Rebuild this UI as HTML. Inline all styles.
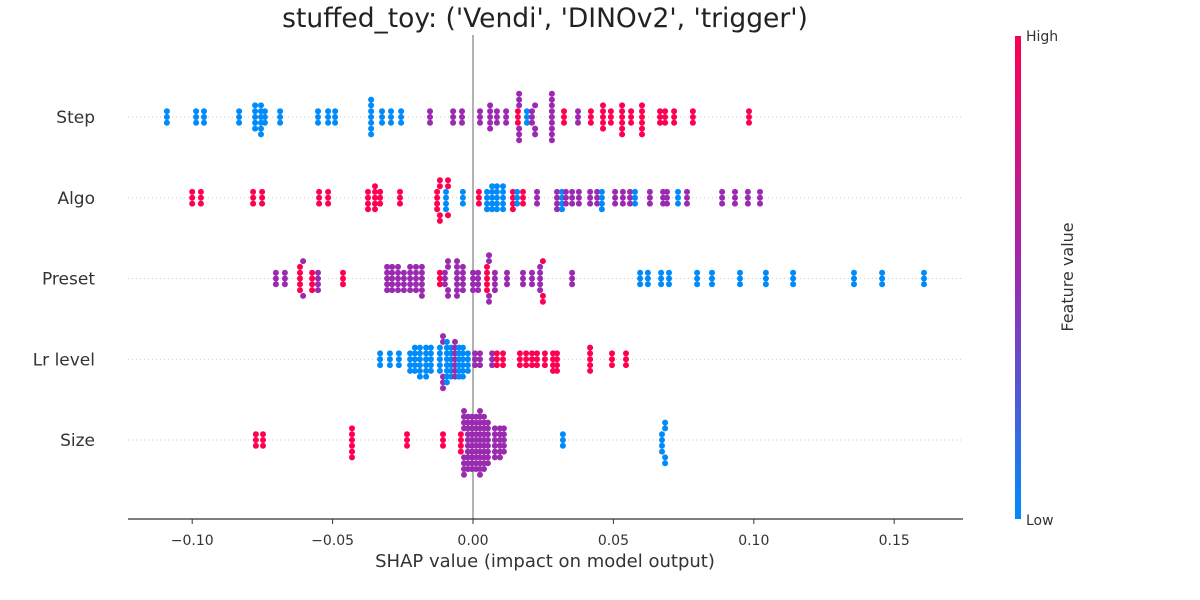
<!DOCTYPE html>
<html><head><meta charset="utf-8"><style>
html,body{margin:0;padding:0;background:#fff;}
svg{display:block;font-family:"DejaVu Sans","Liberation Sans",sans-serif;}
</style></head><body>
<svg id="chart" width="1200" height="600" viewBox="0 0 1200 600" xmlns="http://www.w3.org/2000/svg">
<text x="545" y="27" font-size="26.5" text-anchor="middle" fill="#222">stuffed_toy: ('Vendi', 'DINOv2', 'trigger')</text>
<g id="grid"></g>
<line x1="473" y1="35" x2="473" y2="519" stroke="#999" stroke-width="1.5"/>
<g id="points"></g>
<line x1="128" y1="519" x2="963" y2="519" stroke="#333" stroke-width="1.2"/>
<g id="xticks"></g>
<text x="545" y="567" font-size="18" text-anchor="middle" fill="#333">SHAP value (impact on model output)</text>
<defs><linearGradient id="cb" x1="0" y1="1" x2="0" y2="0">
<stop offset="0" stop-color="#008bfb"/><stop offset="0.5" stop-color="#9a2ab0"/><stop offset="1" stop-color="#ff0051"/></linearGradient></defs>
<rect x="1015" y="36" width="6" height="483" fill="url(#cb)"/>
<text x="1026" y="41" font-size="14" fill="#333">High</text>
<text x="1026" y="525" font-size="14" fill="#333">Low</text>
<text transform="translate(1073,277) rotate(-90)" font-size="16" text-anchor="middle" fill="#333">Feature value</text>
</svg>
<script>
const features = ["Step","Algo","Preset","Lr level","Size"];
const xTicks = [-0.10,-0.05,0.00,0.05,0.10,0.15];
const xTickLabels = ["\u22120.10","\u22120.05","0.00","0.05","0.10","0.15"];

const stepVals = [-0.109,-0.0986,-0.0958,-0.0833,-0.0776,-0.0755,-0.0741,-0.0687,-0.0552,-0.0516,-0.0491,-0.0363,-0.0324,-0.0292,-0.0256,-0.0153,-0.0071,-0.0039,0.0025,0.0061,0.0085,0.0118,0.0164,0.016,0.0192,0.021,0.0221,0.0281,0.0324,0.0374,0.042,0.0463,0.0491,0.0531,0.0563,0.0602,0.0666,0.0684,0.0716,0.0783,0.0983];
const stepCounts = [3,3,3,3,5,6,3,3,3,3,3,7,3,3,3,3,3,3,3,5,3,3,6,3,3,3,3,9,3,3,3,5,3,6,3,6,3,3,3,3,3];
const stepFeat = [0,0,0,0,0,0,0,0,0,0,0,0,0,0,0,0.5,0.5,0.5,0.5,0.5,0.5,0.5,0.5,1,0,0.5,0.5,0.5,1,0.5,1,1,1,1,1,1,1,1,1,1,1];

const algoVals = [-0.1,-0.0969,-0.0783,-0.0751,-0.0548,-0.0516,-0.0374,-0.0349,-0.0331,-0.026,-0.0128,-0.0118,-0.0096,-0.0089,-0.0036,0.0021,0.005,0.0068,0.0085,0.0107,0.0142,0.0157,0.0178,0.0228,0.0299,0.0317,0.0331,0.0353,0.0377,0.0417,0.0442,0.0459,0.0506,0.0534,0.0559,0.0577,0.063,0.0677,0.0691,0.073,0.0762,0.0887,0.0933,0.0979,0.1022];
const algoCounts = [3,3,3,3,3,3,4,5,3,3,4,4,4,3,3,3,4,5,5,5,4,3,3,3,4,4,3,3,3,3,3,4,3,3,3,3,3,3,3,3,3,3,3,3,3];
const algoFeat = [1,1,1,1,1,1,1,1,1,1,1,1,0,1,0,1,0,0,0,0,1,0,1,0.5,0.5,0,0.5,0.5,0.5,0.5,0.5,0,0.5,0.5,0.5,0,0.5,0.5,0.5,0,0.5,0.5,0.5,0.5,0.5];

const presetVals = [-0.0702,-0.067,-0.0616,-0.0605,-0.0573,-0.0552,-0.0463,-0.0306,-0.0288,-0.0267,-0.0246,-0.0224,-0.0203,-0.0182,-0.0118,-0.01,-0.0089,-0.0057,-0.0036,0,0.0018,0.005,0.0057,0.0078,0.0121,0.0178,0.021,0.0239,0.0249,0.0353,0.0595,0.0623,0.067,0.0698,0.0798,0.0851,0.0951,0.1043,0.114,0.1357,0.1457,0.1606];
const presetCounts = [3,3,5,2,4,4,3,5,5,5,4,5,5,6,3,3,4,7,5,4,4,5,4,4,3,3,3,5,3,3,3,3,3,3,3,3,3,3,3,3,3,3];
const presetFeat = [0.5,0.5,1,0.5,1,0.5,1,0.5,0.5,0.5,0.5,0.5,0.5,0.5,1,0.5,0.5,0.5,0.5,0.5,0.5,1,0.5,0.5,0.5,0.5,0.5,0.5,1,0.5,0,0,0,0,0,0,0,0,0,0,0,0];

const lrVals = [-0.0331,-0.0296,-0.0264,-0.0224,-0.0207,-0.0189,-0.0167,-0.015,-0.0118,-0.0107,-0.0093,-0.0078,-0.0064,-0.005,-0.0036,-0.0018,0.0007,0.0025,0.0068,0.0085,0.0107,0.0167,0.0189,0.021,0.0228,0.0256,0.0285,0.0299,0.0417,0.0495,0.0545];
const lrCounts = [3,3,3,4,5,6,6,5,5,5,8,6,7,6,6,4,3,3,3,3,3,3,3,3,3,3,4,4,5,3,3];
const lrFeat = [0,0,0,0,0,0,0,0,0,0.5,0,0,0.5,0,0,0,0.5,0.5,0.5,1,1,1,1,1,1,1,1,1,1,1,1];

const sizeVals = [-0.0773,-0.0748,-0.0431,-0.0235,-0.0107,-0.0043,-0.0032,-0.0018,-0.0004,0.0011,0.0025,0.0039,0.0053,0.0078,0.0096,0.011,0.032,0.0673,0.0684];
const sizeCounts = [3,3,6,3,3,4,8,10,10,10,12,10,8,6,6,5,3,4,4];
const sizeFeat = [1,1,1,1,1,1,0.5,0.5,0.5,0.5,0.5,0.5,0.5,0.5,0.5,0.5,0,0,0];

const rows = [[stepVals,stepCounts,stepFeat],[algoVals,algoCounts,algoFeat],[presetVals,presetCounts,presetFeat],[lrVals,lrCounts,lrFeat],[sizeVals,sizeCounts,sizeFeat]];

const NS="http://www.w3.org/2000/svg";
const x0=473, pxPerUnit=2808;
function xScale(v){return x0+v*pxPerUnit;}
function yRow(i){return 117+i*80.75;}
function color(f){
  if(f<=0) return "#008bfb"; if(f>=1) return "#ff0051"; return "#9a2ab0";
}
const grid=document.getElementById('grid');
features.forEach((f,i)=>{
  const y=yRow(i);
  const l=document.createElementNS(NS,'line');
  l.setAttribute('x1',128);l.setAttribute('x2',963);l.setAttribute('y1',y);l.setAttribute('y2',y);
  l.setAttribute('stroke','#ccc');l.setAttribute('stroke-dasharray','1,3');
  
  
  grid.appendChild(l);
  const t=document.createElementNS(NS,'text');
  t.setAttribute('x',95);t.setAttribute('y',y+6);t.setAttribute('text-anchor','end');
  t.setAttribute('font-size','17');t.setAttribute('fill','#333');t.textContent=f;
  
  
  grid.appendChild(t);
});
const xt=document.getElementById('xticks');
xTicks.forEach((v,i)=>{
  const x=xScale(v);
  const l=document.createElementNS(NS,'line');
  l.setAttribute('x1',x);l.setAttribute('x2',x);l.setAttribute('y1',519);l.setAttribute('y2',524);
  l.setAttribute('stroke','#333');
  
  
  xt.appendChild(l);
  const t=document.createElementNS(NS,'text');
  t.setAttribute('x',x);t.setAttribute('y',545);t.setAttribute('text-anchor','middle');
  t.setAttribute('font-size','14');t.setAttribute('fill','#333');t.textContent=xTickLabels[i];
  
  
  xt.appendChild(t);
});
const pg=document.getElementById('points');
rows.forEach((r,ri)=>{
  const pts=[];
  r[0].forEach((v,j)=>{for(let k=0;k<r[1][j];k++)pts.push({x:xScale(v),f:r[2][j]});});
  pts.sort((a,b)=>a.x-b.x);
  const placed=[]; const DX=3.2, DY=5.6;
  pts.forEach(p=>{
    const near=placed.filter(q=>Math.abs(q.x-p.x)<DX);
    let off=0;
    for(let s=0;s<60;s++){
      const cand=(s===0)?0:((s%2)?1:-1)*Math.ceil(s/2)*5.8;
      if(near.every(q=>Math.abs(q.o-cand)>=DY)){off=cand;break;}
    }
    p.o=off; placed.push(p);
    const c=document.createElementNS(NS,'circle');
    c.setAttribute('cx',p.x.toFixed(1));c.setAttribute('cy',(yRow(ri)+off).toFixed(1));
    c.setAttribute('r',3);c.setAttribute('fill',color(p.f));
    
    
    pg.appendChild(c);
  });
});
</script>
</body></html>
